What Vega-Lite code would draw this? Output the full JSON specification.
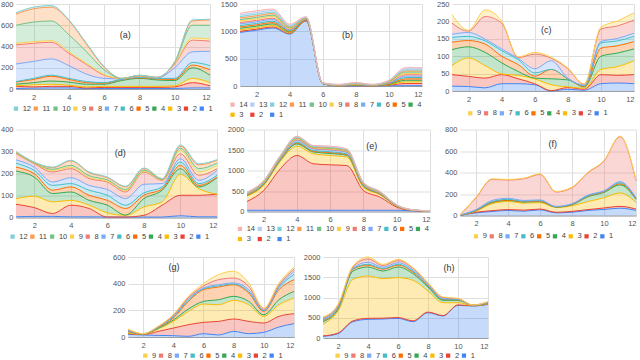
{
"$schema":"https://vega.github.io/schema/vega-lite/v6.json",
"padding":0,
"background":"white",
"config":{
"font":"Liberation Sans",
"view":{"stroke":null},
"axis":{"labelFontSize":7.5,"labelColor":"#555","ticks":false,"grid":true,"gridColor":"#dedede","gridWidth":1,"domain":false},
"axisX":{"domain":true,"domainColor":"#9e9e9e","labelPadding":4,"values":[2,4,6,8,10,12],"labelAngle":0},
"axisY":{"labelPadding":3,"format":"d"},
"legend":{"orient":"none","direction":"horizontal","symbolType":"square","symbolSize":18,"symbolStrokeWidth":0,"labelFontSize":7.5,"labelColor":"#444","columnPadding":0.8,"labelOffset":3,"rowPadding":1.5,"symbolOpacity":1},
"text":{"fontSize":9,"fill":"#333"}
},
"datasets":{
"a":[
{"x":1,"k":1,"v":5},{"x":1,"k":2,"v":20},{"x":1,"k":3,"v":5},{"x":1,"k":4,"v":15},{"x":1,"k":5,"v":20},{"x":1,"k":6,"v":5},{"x":1,"k":7,"v":165},{"x":1,"k":8,"v":180},{"x":1,"k":9,"v":15},{"x":1,"k":10,"v":170},{"x":1,"k":11,"v":105},{"x":1,"k":12,"v":14},
{"x":2,"k":1,"v":8},{"x":2,"k":2,"v":12},{"x":2,"k":3,"v":20},{"x":2,"k":4,"v":20},{"x":2,"k":5,"v":30},{"x":2,"k":6,"v":10},{"x":2,"k":7,"v":160},{"x":2,"k":8,"v":170},{"x":2,"k":9,"v":15},{"x":2,"k":10,"v":185},{"x":2,"k":11,"v":125},{"x":2,"k":12,"v":15},
{"x":3,"k":1,"v":10},{"x":3,"k":2,"v":15},{"x":3,"k":3,"v":20},{"x":3,"k":4,"v":30},{"x":3,"k":5,"v":45},{"x":3,"k":6,"v":10},{"x":3,"k":7,"v":153},{"x":3,"k":8,"v":157},{"x":3,"k":9,"v":15},{"x":3,"k":10,"v":185},{"x":3,"k":11,"v":130},{"x":3,"k":12,"v":15},
{"x":4,"k":1,"v":10},{"x":4,"k":2,"v":15},{"x":4,"k":3,"v":10},{"x":4,"k":4,"v":30},{"x":4,"k":5,"v":25},{"x":4,"k":6,"v":10},{"x":4,"k":7,"v":120},{"x":4,"k":8,"v":116},{"x":4,"k":9,"v":14},{"x":4,"k":10,"v":160},{"x":4,"k":11,"v":135},{"x":4,"k":12,"v":5},
{"x":5,"k":1,"v":5},{"x":5,"k":2,"v":5},{"x":5,"k":3,"v":10},{"x":5,"k":4,"v":25},{"x":5,"k":5,"v":15},{"x":5,"k":6,"v":10},{"x":5,"k":7,"v":70},{"x":5,"k":8,"v":90},{"x":5,"k":9,"v":10},{"x":5,"k":10,"v":110},{"x":5,"k":11,"v":70},{"x":5,"k":12,"v":10},
{"x":6,"k":1,"v":5},{"x":6,"k":2,"v":10},{"x":6,"k":3,"v":10},{"x":6,"k":4,"v":20},{"x":6,"k":5,"v":10},{"x":6,"k":6,"v":5},{"x":6,"k":7,"v":40},{"x":6,"k":8,"v":30},{"x":6,"k":9,"v":5},{"x":6,"k":10,"v":45},{"x":6,"k":11,"v":25},{"x":6,"k":12,"v":5},
{"x":7,"k":1,"v":5},{"x":7,"k":2,"v":10},{"x":7,"k":3,"v":10},{"x":7,"k":4,"v":55},{"x":7,"k":5,"v":10},{"x":7,"k":6,"v":2},{"x":7,"k":7,"v":3},{"x":7,"k":8,"v":3},{"x":7,"k":9,"v":1},{"x":7,"k":10,"v":1},{"x":7,"k":11,"v":0},{"x":7,"k":12,"v":0},
{"x":8,"k":1,"v":5},{"x":8,"k":2,"v":10},{"x":8,"k":3,"v":10},{"x":8,"k":4,"v":75},{"x":8,"k":5,"v":5},{"x":8,"k":6,"v":5},{"x":8,"k":7,"v":5},{"x":8,"k":8,"v":5},{"x":8,"k":9,"v":2},{"x":8,"k":10,"v":5},{"x":8,"k":11,"v":2},{"x":8,"k":12,"v":1},
{"x":9,"k":1,"v":5},{"x":9,"k":2,"v":10},{"x":9,"k":3,"v":10},{"x":9,"k":4,"v":60},{"x":9,"k":5,"v":10},{"x":9,"k":6,"v":5},{"x":9,"k":7,"v":3},{"x":9,"k":8,"v":3},{"x":9,"k":9,"v":1},{"x":9,"k":10,"v":2},{"x":9,"k":11,"v":1},{"x":9,"k":12,"v":0},
{"x":10,"k":1,"v":5},{"x":10,"k":2,"v":15},{"x":10,"k":3,"v":10},{"x":10,"k":4,"v":50},{"x":10,"k":5,"v":10},{"x":10,"k":6,"v":10},{"x":10,"k":7,"v":100},{"x":10,"k":8,"v":35},{"x":10,"k":9,"v":5},{"x":10,"k":10,"v":10},{"x":10,"k":11,"v":5},{"x":10,"k":12,"v":2},
{"x":11,"k":1,"v":10},{"x":11,"k":2,"v":50},{"x":11,"k":3,"v":40},{"x":11,"k":4,"v":100},{"x":11,"k":5,"v":25},{"x":11,"k":6,"v":25},{"x":11,"k":7,"v":100},{"x":11,"k":8,"v":110},{"x":11,"k":9,"v":20},{"x":11,"k":10,"v":120},{"x":11,"k":11,"v":40},{"x":11,"k":12,"v":10},
{"x":12,"k":1,"v":10},{"x":12,"k":2,"v":20},{"x":12,"k":3,"v":30},{"x":12,"k":4,"v":70},{"x":12,"k":5,"v":50},{"x":12,"k":6,"v":40},{"x":12,"k":7,"v":135},{"x":12,"k":8,"v":95},{"x":12,"k":9,"v":20},{"x":12,"k":10,"v":130},{"x":12,"k":11,"v":50},{"x":12,"k":12,"v":6}
],
"b":[
{"x":1,"k":1,"v":980},{"x":1,"k":2,"v":20},{"x":1,"k":3,"v":25},{"x":1,"k":4,"v":30},{"x":1,"k":5,"v":25},{"x":1,"k":6,"v":25},{"x":1,"k":7,"v":30},{"x":1,"k":8,"v":25},{"x":1,"k":9,"v":30},{"x":1,"k":10,"v":25},{"x":1,"k":11,"v":30},{"x":1,"k":12,"v":25},{"x":1,"k":13,"v":30},{"x":1,"k":14,"v":30},
{"x":2,"k":1,"v":1020},{"x":2,"k":2,"v":20},{"x":2,"k":3,"v":25},{"x":2,"k":4,"v":30},{"x":2,"k":5,"v":25},{"x":2,"k":6,"v":25},{"x":2,"k":7,"v":30},{"x":2,"k":8,"v":25},{"x":2,"k":9,"v":30},{"x":2,"k":10,"v":25},{"x":2,"k":11,"v":30},{"x":2,"k":12,"v":30},{"x":2,"k":13,"v":30},{"x":2,"k":14,"v":32},
{"x":3,"k":1,"v":1060},{"x":3,"k":2,"v":20},{"x":3,"k":3,"v":25},{"x":3,"k":4,"v":30},{"x":3,"k":5,"v":25},{"x":3,"k":6,"v":25},{"x":3,"k":7,"v":30},{"x":3,"k":8,"v":25},{"x":3,"k":9,"v":30},{"x":3,"k":10,"v":25},{"x":3,"k":11,"v":30},{"x":3,"k":12,"v":25},{"x":3,"k":13,"v":30},{"x":3,"k":14,"v":28},
{"x":4,"k":1,"v":950},{"x":4,"k":2,"v":10},{"x":4,"k":3,"v":12},{"x":4,"k":4,"v":15},{"x":4,"k":5,"v":12},{"x":4,"k":6,"v":12},{"x":4,"k":7,"v":15},{"x":4,"k":8,"v":12},{"x":4,"k":9,"v":15},{"x":4,"k":10,"v":12},{"x":4,"k":11,"v":15},{"x":4,"k":12,"v":15},{"x":4,"k":13,"v":18},{"x":4,"k":14,"v":17},
{"x":5,"k":1,"v":1190},{"x":5,"k":2,"v":5},{"x":5,"k":3,"v":6},{"x":5,"k":4,"v":6},{"x":5,"k":5,"v":6},{"x":5,"k":6,"v":6},{"x":5,"k":7,"v":6},{"x":5,"k":8,"v":6},{"x":5,"k":9,"v":6},{"x":5,"k":10,"v":6},{"x":5,"k":11,"v":6},{"x":5,"k":12,"v":6},{"x":5,"k":13,"v":6},{"x":5,"k":14,"v":6},
{"x":6,"k":1,"v":40},{"x":6,"k":2,"v":2},{"x":6,"k":3,"v":1},{"x":6,"k":4,"v":2},{"x":6,"k":5,"v":1},{"x":6,"k":6,"v":2},{"x":6,"k":7,"v":1},{"x":6,"k":8,"v":2},{"x":6,"k":9,"v":1},{"x":6,"k":10,"v":2},{"x":6,"k":11,"v":1},{"x":6,"k":12,"v":2},{"x":6,"k":13,"v":1},{"x":6,"k":14,"v":2},
{"x":7,"k":1,"v":0},{"x":7,"k":2,"v":2},{"x":7,"k":3,"v":2},{"x":7,"k":4,"v":2},{"x":7,"k":5,"v":2},{"x":7,"k":6,"v":2},{"x":7,"k":7,"v":2},{"x":7,"k":8,"v":3},{"x":7,"k":9,"v":2},{"x":7,"k":10,"v":2},{"x":7,"k":11,"v":3},{"x":7,"k":12,"v":2},{"x":7,"k":13,"v":3},{"x":7,"k":14,"v":3},
{"x":8,"k":1,"v":0},{"x":8,"k":2,"v":5},{"x":8,"k":3,"v":5},{"x":8,"k":4,"v":5},{"x":8,"k":5,"v":5},{"x":8,"k":6,"v":5},{"x":8,"k":7,"v":5},{"x":8,"k":8,"v":5},{"x":8,"k":9,"v":5},{"x":8,"k":10,"v":5},{"x":8,"k":11,"v":5},{"x":8,"k":12,"v":5},{"x":8,"k":13,"v":5},{"x":8,"k":14,"v":5},
{"x":9,"k":1,"v":0},{"x":9,"k":2,"v":2},{"x":9,"k":3,"v":2},{"x":9,"k":4,"v":2},{"x":9,"k":5,"v":2},{"x":9,"k":6,"v":2},{"x":9,"k":7,"v":3},{"x":9,"k":8,"v":2},{"x":9,"k":9,"v":3},{"x":9,"k":10,"v":2},{"x":9,"k":11,"v":3},{"x":9,"k":12,"v":2},{"x":9,"k":13,"v":3},{"x":9,"k":14,"v":2},
{"x":10,"k":1,"v":5},{"x":10,"k":2,"v":10},{"x":10,"k":3,"v":8},{"x":10,"k":4,"v":8},{"x":10,"k":5,"v":8},{"x":10,"k":6,"v":8},{"x":10,"k":7,"v":8},{"x":10,"k":8,"v":8},{"x":10,"k":9,"v":8},{"x":10,"k":10,"v":8},{"x":10,"k":11,"v":7},{"x":10,"k":12,"v":7},{"x":10,"k":13,"v":6},{"x":10,"k":14,"v":6},
{"x":11,"k":1,"v":5},{"x":11,"k":2,"v":40},{"x":11,"k":3,"v":30},{"x":11,"k":4,"v":30},{"x":11,"k":5,"v":25},{"x":11,"k":6,"v":25},{"x":11,"k":7,"v":25},{"x":11,"k":8,"v":25},{"x":11,"k":9,"v":25},{"x":11,"k":10,"v":25},{"x":11,"k":11,"v":20},{"x":11,"k":12,"v":20},{"x":11,"k":13,"v":20},{"x":11,"k":14,"v":20},
{"x":12,"k":1,"v":5},{"x":12,"k":2,"v":40},{"x":12,"k":3,"v":30},{"x":12,"k":4,"v":30},{"x":12,"k":5,"v":25},{"x":12,"k":6,"v":25},{"x":12,"k":7,"v":25},{"x":12,"k":8,"v":25},{"x":12,"k":9,"v":25},{"x":12,"k":10,"v":25},{"x":12,"k":11,"v":20},{"x":12,"k":12,"v":20},{"x":12,"k":13,"v":20},{"x":12,"k":14,"v":20}
],
"c":[
{"x":1,"k":1,"v":14},{"x":1,"k":2,"v":33},{"x":1,"k":3,"v":26},{"x":1,"k":4,"v":46},{"x":1,"k":5,"v":21},{"x":1,"k":6,"v":14},{"x":1,"k":7,"v":9},{"x":1,"k":8,"v":32},{"x":1,"k":9,"v":25},
{"x":2,"k":1,"v":13},{"x":2,"k":2,"v":29},{"x":2,"k":3,"v":53},{"x":2,"k":4,"v":32},{"x":2,"k":5,"v":18},{"x":2,"k":6,"v":12},{"x":2,"k":7,"v":11},{"x":2,"k":8,"v":4},{"x":2,"k":9,"v":3},
{"x":3,"k":1,"v":9},{"x":3,"k":2,"v":28},{"x":3,"k":3,"v":36},{"x":3,"k":4,"v":38},{"x":3,"k":5,"v":24},{"x":3,"k":6,"v":9},{"x":3,"k":7,"v":5},{"x":3,"k":8,"v":65},{"x":3,"k":9,"v":19},
{"x":4,"k":1,"v":21},{"x":4,"k":2,"v":26},{"x":4,"k":3,"v":2},{"x":4,"k":4,"v":32},{"x":4,"k":5,"v":19},{"x":4,"k":6,"v":16},{"x":4,"k":7,"v":5},{"x":4,"k":8,"v":74},{"x":4,"k":9,"v":6},
{"x":5,"k":1,"v":21},{"x":5,"k":2,"v":14},{"x":5,"k":3,"v":10},{"x":5,"k":4,"v":11},{"x":5,"k":5,"v":20},{"x":5,"k":6,"v":14},{"x":5,"k":7,"v":4},{"x":5,"k":8,"v":2},{"x":5,"k":9,"v":2},
{"x":6,"k":1,"v":18},{"x":6,"k":2,"v":3},{"x":6,"k":3,"v":14},{"x":6,"k":4,"v":2},{"x":6,"k":5,"v":6},{"x":6,"k":6,"v":9},{"x":6,"k":7,"v":12},{"x":6,"k":8,"v":42},{"x":6,"k":9,"v":5},
{"x":7,"k":1,"v":0},{"x":7,"k":2,"v":1},{"x":7,"k":3,"v":17},{"x":7,"k":4,"v":17},{"x":7,"k":5,"v":27},{"x":7,"k":6,"v":0},{"x":7,"k":7,"v":25},{"x":7,"k":8,"v":7},{"x":7,"k":9,"v":3},
{"x":8,"k":1,"v":5},{"x":8,"k":2,"v":5},{"x":8,"k":3,"v":2},{"x":8,"k":4,"v":20},{"x":8,"k":5,"v":3},{"x":8,"k":6,"v":0},{"x":8,"k":7,"v":2},{"x":8,"k":8,"v":27},{"x":8,"k":9,"v":2},
{"x":9,"k":1,"v":2},{"x":9,"k":2,"v":3},{"x":9,"k":3,"v":3},{"x":9,"k":4,"v":4},{"x":9,"k":5,"v":1},{"x":9,"k":6,"v":2},{"x":9,"k":7,"v":2},{"x":9,"k":8,"v":2},{"x":9,"k":9,"v":1},
{"x":10,"k":1,"v":21},{"x":10,"k":2,"v":26},{"x":10,"k":3,"v":15},{"x":10,"k":4,"v":38},{"x":10,"k":5,"v":23},{"x":10,"k":6,"v":15},{"x":10,"k":7,"v":4},{"x":10,"k":8,"v":36},{"x":10,"k":9,"v":6},
{"x":11,"k":1,"v":23},{"x":11,"k":2,"v":22},{"x":11,"k":3,"v":25},{"x":11,"k":4,"v":39},{"x":11,"k":5,"v":21},{"x":11,"k":6,"v":14},{"x":11,"k":7,"v":7},{"x":11,"k":8,"v":36},{"x":11,"k":9,"v":14},
{"x":12,"k":1,"v":21},{"x":12,"k":2,"v":26},{"x":12,"k":3,"v":40},{"x":12,"k":4,"v":34},{"x":12,"k":5,"v":21},{"x":12,"k":6,"v":15},{"x":12,"k":7,"v":9},{"x":12,"k":8,"v":38},{"x":12,"k":9,"v":21}
],
"d":[
{"x":1,"k":1,"v":3},{"x":1,"k":2,"v":57},{"x":1,"k":3,"v":25},{"x":1,"k":4,"v":126},{"x":1,"k":5,"v":18},{"x":1,"k":6,"v":18},{"x":1,"k":7,"v":15},{"x":1,"k":8,"v":28},{"x":1,"k":9,"v":2},{"x":1,"k":10,"v":3},{"x":1,"k":11,"v":3},{"x":1,"k":12,"v":2},
{"x":2,"k":1,"v":5},{"x":2,"k":2,"v":40},{"x":2,"k":3,"v":52},{"x":2,"k":4,"v":87},{"x":2,"k":5,"v":15},{"x":2,"k":6,"v":15},{"x":2,"k":7,"v":15},{"x":2,"k":8,"v":15},{"x":2,"k":9,"v":2},{"x":2,"k":10,"v":2},{"x":2,"k":11,"v":2},{"x":2,"k":12,"v":2},
{"x":3,"k":1,"v":5},{"x":3,"k":2,"v":13},{"x":3,"k":3,"v":53},{"x":3,"k":4,"v":38},{"x":3,"k":5,"v":15},{"x":3,"k":6,"v":22},{"x":3,"k":7,"v":15},{"x":3,"k":8,"v":46},{"x":3,"k":9,"v":7},{"x":3,"k":10,"v":5},{"x":3,"k":11,"v":7},{"x":3,"k":12,"v":3},
{"x":4,"k":1,"v":3},{"x":4,"k":2,"v":53},{"x":4,"k":3,"v":22},{"x":4,"k":4,"v":38},{"x":4,"k":5,"v":23},{"x":4,"k":6,"v":15},{"x":4,"k":7,"v":27},{"x":4,"k":8,"v":41},{"x":4,"k":9,"v":7},{"x":4,"k":10,"v":8},{"x":4,"k":11,"v":20},{"x":4,"k":12,"v":3},
{"x":5,"k":1,"v":3},{"x":5,"k":2,"v":38},{"x":5,"k":3,"v":15},{"x":5,"k":4,"v":22},{"x":5,"k":5,"v":23},{"x":5,"k":6,"v":23},{"x":5,"k":7,"v":22},{"x":5,"k":8,"v":31},{"x":5,"k":9,"v":5},{"x":5,"k":10,"v":8},{"x":5,"k":11,"v":14},{"x":5,"k":12,"v":3},
{"x":6,"k":1,"v":2},{"x":6,"k":2,"v":0},{"x":6,"k":3,"v":19},{"x":6,"k":4,"v":35},{"x":6,"k":5,"v":22},{"x":6,"k":6,"v":23},{"x":6,"k":7,"v":26},{"x":6,"k":8,"v":34},{"x":6,"k":9,"v":4},{"x":6,"k":10,"v":6},{"x":6,"k":11,"v":10},{"x":6,"k":12,"v":3},
{"x":7,"k":1,"v":2},{"x":7,"k":2,"v":0},{"x":7,"k":3,"v":8},{"x":7,"k":4,"v":1},{"x":7,"k":5,"v":30},{"x":7,"k":6,"v":15},{"x":7,"k":7,"v":30},{"x":7,"k":8,"v":30},{"x":7,"k":9,"v":5},{"x":7,"k":10,"v":6},{"x":7,"k":11,"v":12},{"x":7,"k":12,"v":3},
{"x":8,"k":1,"v":2},{"x":8,"k":2,"v":8},{"x":8,"k":3,"v":38},{"x":8,"k":4,"v":38},{"x":8,"k":5,"v":15},{"x":8,"k":6,"v":11},{"x":8,"k":7,"v":39},{"x":8,"k":8,"v":56},{"x":8,"k":9,"v":3},{"x":8,"k":10,"v":5},{"x":8,"k":11,"v":8},{"x":8,"k":12,"v":2},
{"x":9,"k":1,"v":2},{"x":9,"k":2,"v":54},{"x":9,"k":3,"v":15},{"x":9,"k":4,"v":53},{"x":9,"k":5,"v":7},{"x":9,"k":6,"v":8},{"x":9,"k":7,"v":15},{"x":9,"k":8,"v":15},{"x":9,"k":9,"v":2},{"x":9,"k":10,"v":2},{"x":9,"k":11,"v":2},{"x":9,"k":12,"v":2},
{"x":10,"k":1,"v":8},{"x":10,"k":2,"v":93},{"x":10,"k":3,"v":95},{"x":10,"k":4,"v":26},{"x":10,"k":5,"v":15},{"x":10,"k":6,"v":15},{"x":10,"k":7,"v":15},{"x":10,"k":8,"v":23},{"x":10,"k":9,"v":15},{"x":10,"k":10,"v":10},{"x":10,"k":11,"v":10},{"x":10,"k":12,"v":5},
{"x":11,"k":1,"v":3},{"x":11,"k":2,"v":98},{"x":11,"k":3,"v":30},{"x":11,"k":4,"v":8},{"x":11,"k":5,"v":7},{"x":11,"k":6,"v":8},{"x":11,"k":7,"v":15},{"x":11,"k":8,"v":23},{"x":11,"k":9,"v":15},{"x":11,"k":10,"v":15},{"x":11,"k":11,"v":17},{"x":11,"k":12,"v":5},
{"x":12,"k":1,"v":3},{"x":12,"k":2,"v":103},{"x":12,"k":3,"v":0},{"x":12,"k":4,"v":75},{"x":12,"k":5,"v":3},{"x":12,"k":6,"v":8},{"x":12,"k":7,"v":22},{"x":12,"k":8,"v":8},{"x":12,"k":9,"v":15},{"x":12,"k":10,"v":10},{"x":12,"k":11,"v":13},{"x":12,"k":12,"v":3}
],
"e":[
{"x":1,"k":1,"v":30},{"x":1,"k":2,"v":214},{"x":1,"k":3,"v":130},{"x":1,"k":4,"v":20},{"x":1,"k":5,"v":8},{"x":1,"k":6,"v":8},{"x":1,"k":7,"v":12},{"x":1,"k":8,"v":8},{"x":1,"k":9,"v":8},{"x":1,"k":10,"v":8},{"x":1,"k":11,"v":8},{"x":1,"k":12,"v":6},{"x":1,"k":13,"v":6},{"x":1,"k":14,"v":6},
{"x":2,"k":1,"v":30},{"x":2,"k":2,"v":482},{"x":2,"k":3,"v":122},{"x":2,"k":4,"v":25},{"x":2,"k":5,"v":10},{"x":2,"k":6,"v":10},{"x":2,"k":7,"v":15},{"x":2,"k":8,"v":10},{"x":2,"k":9,"v":10},{"x":2,"k":10,"v":10},{"x":2,"k":11,"v":10},{"x":2,"k":12,"v":8},{"x":2,"k":13,"v":7},{"x":2,"k":14,"v":7},
{"x":3,"k":1,"v":30},{"x":3,"k":2,"v":1010},{"x":3,"k":3,"v":180},{"x":3,"k":4,"v":30},{"x":3,"k":5,"v":12},{"x":3,"k":6,"v":12},{"x":3,"k":7,"v":18},{"x":3,"k":8,"v":12},{"x":3,"k":9,"v":12},{"x":3,"k":10,"v":12},{"x":3,"k":11,"v":12},{"x":3,"k":12,"v":12},{"x":3,"k":13,"v":7},{"x":3,"k":14,"v":7},
{"x":4,"k":1,"v":30},{"x":4,"k":2,"v":1336},{"x":4,"k":3,"v":227},{"x":4,"k":4,"v":57},{"x":4,"k":5,"v":20},{"x":4,"k":6,"v":20},{"x":4,"k":7,"v":40},{"x":4,"k":8,"v":20},{"x":4,"k":9,"v":20},{"x":4,"k":10,"v":15},{"x":4,"k":11,"v":15},{"x":4,"k":12,"v":15},{"x":4,"k":13,"v":12},{"x":4,"k":14,"v":10},
{"x":5,"k":1,"v":30},{"x":5,"k":2,"v":1133},{"x":5,"k":3,"v":243},{"x":5,"k":4,"v":45},{"x":5,"k":5,"v":15},{"x":5,"k":6,"v":20},{"x":5,"k":7,"v":35},{"x":5,"k":8,"v":15},{"x":5,"k":9,"v":15},{"x":5,"k":10,"v":12},{"x":5,"k":11,"v":12},{"x":5,"k":12,"v":15},{"x":5,"k":13,"v":10},{"x":5,"k":14,"v":10},
{"x":6,"k":1,"v":30},{"x":6,"k":2,"v":1108},{"x":6,"k":3,"v":228},{"x":6,"k":4,"v":50},{"x":6,"k":5,"v":20},{"x":6,"k":6,"v":20},{"x":6,"k":7,"v":40},{"x":6,"k":8,"v":15},{"x":6,"k":9,"v":15},{"x":6,"k":10,"v":15},{"x":6,"k":11,"v":15},{"x":6,"k":12,"v":15},{"x":6,"k":13,"v":12},{"x":6,"k":14,"v":10},
{"x":7,"k":1,"v":30},{"x":7,"k":2,"v":1092},{"x":7,"k":3,"v":203},{"x":7,"k":4,"v":45},{"x":7,"k":5,"v":15},{"x":7,"k":6,"v":20},{"x":7,"k":7,"v":35},{"x":7,"k":8,"v":15},{"x":7,"k":9,"v":15},{"x":7,"k":10,"v":12},{"x":7,"k":11,"v":12},{"x":7,"k":12,"v":15},{"x":7,"k":13,"v":10},{"x":7,"k":14,"v":9},
{"x":8,"k":1,"v":30},{"x":8,"k":2,"v":482},{"x":8,"k":3,"v":81},{"x":8,"k":4,"v":25},{"x":8,"k":5,"v":10},{"x":8,"k":6,"v":10},{"x":8,"k":7,"v":15},{"x":8,"k":8,"v":10},{"x":8,"k":9,"v":10},{"x":8,"k":10,"v":10},{"x":8,"k":11,"v":10},{"x":8,"k":12,"v":8},{"x":8,"k":13,"v":7},{"x":8,"k":14,"v":7},
{"x":9,"k":1,"v":30},{"x":9,"k":2,"v":320},{"x":9,"k":3,"v":57},{"x":9,"k":4,"v":15},{"x":9,"k":5,"v":7},{"x":9,"k":6,"v":7},{"x":9,"k":7,"v":10},{"x":9,"k":8,"v":7},{"x":9,"k":9,"v":7},{"x":9,"k":10,"v":7},{"x":9,"k":11,"v":7},{"x":9,"k":12,"v":5},{"x":9,"k":13,"v":5},{"x":9,"k":14,"v":4},
{"x":10,"k":1,"v":30},{"x":10,"k":2,"v":76},{"x":10,"k":3,"v":24},{"x":10,"k":4,"v":5},{"x":10,"k":5,"v":3},{"x":10,"k":6,"v":3},{"x":10,"k":7,"v":4},{"x":10,"k":8,"v":3},{"x":10,"k":9,"v":3},{"x":10,"k":10,"v":3},{"x":10,"k":11,"v":3},{"x":10,"k":12,"v":2},{"x":10,"k":13,"v":2},{"x":10,"k":14,"v":2},
{"x":11,"k":1,"v":15},{"x":11,"k":2,"v":5},{"x":11,"k":3,"v":10},{"x":11,"k":4,"v":1},{"x":11,"k":5,"v":1},{"x":11,"k":6,"v":1},{"x":11,"k":7,"v":1},{"x":11,"k":8,"v":1},{"x":11,"k":9,"v":1},{"x":11,"k":10,"v":1},{"x":11,"k":11,"v":1},{"x":11,"k":12,"v":1},{"x":11,"k":13,"v":1},{"x":11,"k":14,"v":1},
{"x":12,"k":1,"v":6},{"x":12,"k":2,"v":2},{"x":12,"k":3,"v":3},{"x":12,"k":4,"v":1},{"x":12,"k":5,"v":0},{"x":12,"k":6,"v":1},{"x":12,"k":7,"v":0},{"x":12,"k":8,"v":1},{"x":12,"k":9,"v":0},{"x":12,"k":10,"v":1},{"x":12,"k":11,"v":0},{"x":12,"k":12,"v":0},{"x":12,"k":13,"v":1},{"x":12,"k":14,"v":0}
],
"f":[
{"x":1,"k":1,"v":0},{"x":1,"k":2,"v":0},{"x":1,"k":3,"v":3},{"x":1,"k":4,"v":0},{"x":1,"k":5,"v":0},{"x":1,"k":6,"v":0},{"x":1,"k":7,"v":1},{"x":1,"k":8,"v":1},{"x":1,"k":9,"v":1},
{"x":2,"k":1,"v":25},{"x":2,"k":2,"v":5},{"x":2,"k":3,"v":10},{"x":2,"k":4,"v":5},{"x":2,"k":5,"v":2},{"x":2,"k":6,"v":3},{"x":2,"k":7,"v":5},{"x":2,"k":8,"v":110},{"x":2,"k":9,"v":5},
{"x":3,"k":1,"v":37},{"x":3,"k":2,"v":8},{"x":3,"k":3,"v":65},{"x":3,"k":4,"v":10},{"x":3,"k":5,"v":3},{"x":3,"k":6,"v":7},{"x":3,"k":7,"v":10},{"x":3,"k":8,"v":196},{"x":3,"k":9,"v":5},
{"x":4,"k":1,"v":47},{"x":4,"k":2,"v":8},{"x":4,"k":3,"v":75},{"x":4,"k":4,"v":10},{"x":4,"k":5,"v":3},{"x":4,"k":6,"v":7},{"x":4,"k":7,"v":10},{"x":4,"k":8,"v":170},{"x":4,"k":9,"v":5},
{"x":5,"k":1,"v":40},{"x":5,"k":2,"v":10},{"x":5,"k":3,"v":65},{"x":5,"k":4,"v":10},{"x":5,"k":5,"v":3},{"x":5,"k":6,"v":5},{"x":5,"k":7,"v":7},{"x":5,"k":8,"v":202},{"x":5,"k":9,"v":5},
{"x":6,"k":1,"v":53},{"x":6,"k":2,"v":7},{"x":6,"k":3,"v":60},{"x":6,"k":4,"v":10},{"x":6,"k":5,"v":3},{"x":6,"k":6,"v":5},{"x":6,"k":7,"v":7},{"x":6,"k":8,"v":238},{"x":6,"k":9,"v":5},
{"x":7,"k":1,"v":25},{"x":7,"k":2,"v":5},{"x":7,"k":3,"v":45},{"x":7,"k":4,"v":3},{"x":7,"k":5,"v":2},{"x":7,"k":6,"v":2},{"x":7,"k":7,"v":3},{"x":7,"k":8,"v":133},{"x":7,"k":9,"v":5},
{"x":8,"k":1,"v":31},{"x":8,"k":2,"v":7},{"x":8,"k":3,"v":52},{"x":8,"k":4,"v":10},{"x":8,"k":5,"v":3},{"x":8,"k":6,"v":3},{"x":8,"k":7,"v":4},{"x":8,"k":8,"v":149},{"x":8,"k":9,"v":5},
{"x":9,"k":1,"v":47},{"x":9,"k":2,"v":8},{"x":9,"k":3,"v":75},{"x":9,"k":4,"v":45},{"x":9,"k":5,"v":5},{"x":9,"k":6,"v":5},{"x":9,"k":7,"v":5},{"x":9,"k":8,"v":208},{"x":9,"k":9,"v":5},
{"x":10,"k":1,"v":56},{"x":10,"k":2,"v":14},{"x":10,"k":3,"v":95},{"x":10,"k":4,"v":50},{"x":10,"k":5,"v":5},{"x":10,"k":6,"v":5},{"x":10,"k":7,"v":5},{"x":10,"k":8,"v":277},{"x":10,"k":9,"v":5},
{"x":11,"k":1,"v":68},{"x":11,"k":2,"v":17},{"x":11,"k":3,"v":125},{"x":11,"k":4,"v":75},{"x":11,"k":5,"v":10},{"x":11,"k":6,"v":10},{"x":11,"k":7,"v":10},{"x":11,"k":8,"v":418},{"x":11,"k":9,"v":5},
{"x":12,"k":1,"v":47},{"x":12,"k":2,"v":13},{"x":12,"k":3,"v":60},{"x":12,"k":4,"v":30},{"x":12,"k":5,"v":5},{"x":12,"k":6,"v":5},{"x":12,"k":7,"v":5},{"x":12,"k":8,"v":156},{"x":12,"k":9,"v":5}
],
"g":[
{"x":1,"k":1,"v":20},{"x":1,"k":2,"v":5},{"x":1,"k":3,"v":5},{"x":1,"k":4,"v":10},{"x":1,"k":5,"v":2},{"x":1,"k":6,"v":3},{"x":1,"k":7,"v":5},{"x":1,"k":8,"v":5},{"x":1,"k":9,"v":5},
{"x":2,"k":1,"v":15},{"x":2,"k":2,"v":3},{"x":2,"k":3,"v":2},{"x":2,"k":4,"v":2},{"x":2,"k":5,"v":1},{"x":2,"k":6,"v":1},{"x":2,"k":7,"v":0},{"x":2,"k":8,"v":0},{"x":2,"k":9,"v":1},
{"x":3,"k":1,"v":12},{"x":3,"k":2,"v":30},{"x":3,"k":3,"v":18},{"x":3,"k":4,"v":5},{"x":3,"k":5,"v":5},{"x":3,"k":6,"v":3},{"x":3,"k":7,"v":3},{"x":3,"k":8,"v":2},{"x":3,"k":9,"v":2},
{"x":4,"k":1,"v":10},{"x":4,"k":2,"v":57},{"x":4,"k":3,"v":50},{"x":4,"k":4,"v":10},{"x":4,"k":5,"v":15},{"x":4,"k":6,"v":8},{"x":4,"k":7,"v":6},{"x":4,"k":8,"v":6},{"x":4,"k":9,"v":6},
{"x":5,"k":1,"v":5},{"x":5,"k":2,"v":87},{"x":5,"k":3,"v":100},{"x":5,"k":4,"v":18},{"x":5,"k":5,"v":57},{"x":5,"k":6,"v":10},{"x":5,"k":7,"v":8},{"x":5,"k":8,"v":10},{"x":5,"k":9,"v":10},
{"x":6,"k":1,"v":25},{"x":6,"k":2,"v":85},{"x":6,"k":3,"v":137},{"x":6,"k":4,"v":20},{"x":6,"k":5,"v":88},{"x":6,"k":6,"v":7},{"x":6,"k":7,"v":5},{"x":6,"k":8,"v":15},{"x":6,"k":9,"v":18},
{"x":7,"k":1,"v":15},{"x":7,"k":2,"v":102},{"x":7,"k":3,"v":125},{"x":7,"k":4,"v":38},{"x":7,"k":5,"v":95},{"x":7,"k":6,"v":8},{"x":7,"k":7,"v":9},{"x":7,"k":8,"v":38},{"x":7,"k":9,"v":38},
{"x":8,"k":1,"v":42},{"x":8,"k":2,"v":93},{"x":8,"k":3,"v":140},{"x":8,"k":4,"v":30},{"x":8,"k":5,"v":87},{"x":8,"k":6,"v":6},{"x":8,"k":7,"v":7},{"x":8,"k":8,"v":37},{"x":8,"k":9,"v":51},
{"x":9,"k":1,"v":25},{"x":9,"k":2,"v":92},{"x":9,"k":3,"v":125},{"x":9,"k":4,"v":25},{"x":9,"k":5,"v":63},{"x":9,"k":6,"v":10},{"x":9,"k":7,"v":15},{"x":9,"k":8,"v":25},{"x":9,"k":9,"v":25},
{"x":10,"k":1,"v":35},{"x":10,"k":2,"v":70},{"x":10,"k":3,"v":50},{"x":10,"k":4,"v":12},{"x":10,"k":5,"v":25},{"x":10,"k":6,"v":5},{"x":10,"k":7,"v":3},{"x":10,"k":8,"v":8},{"x":10,"k":9,"v":10},
{"x":11,"k":1,"v":75},{"x":11,"k":2,"v":80},{"x":11,"k":3,"v":87},{"x":11,"k":4,"v":38},{"x":11,"k":5,"v":75},{"x":11,"k":6,"v":15},{"x":11,"k":7,"v":10},{"x":11,"k":8,"v":10},{"x":11,"k":9,"v":15},
{"x":12,"k":1,"v":100},{"x":12,"k":2,"v":75},{"x":12,"k":3,"v":117},{"x":12,"k":4,"v":50},{"x":12,"k":5,"v":88},{"x":12,"k":6,"v":40},{"x":12,"k":7,"v":22},{"x":12,"k":8,"v":18},{"x":12,"k":9,"v":15}
],
"h":[
{"x":1,"k":1,"v":41},{"x":1,"k":2,"v":10},{"x":1,"k":3,"v":286},{"x":1,"k":4,"v":66},{"x":1,"k":5,"v":30},{"x":1,"k":6,"v":20},{"x":1,"k":7,"v":25},{"x":1,"k":8,"v":20},{"x":1,"k":9,"v":20},
{"x":2,"k":1,"v":107},{"x":2,"k":2,"v":15},{"x":2,"k":3,"v":545},{"x":2,"k":4,"v":41},{"x":2,"k":5,"v":20},{"x":2,"k":6,"v":15},{"x":2,"k":7,"v":30},{"x":2,"k":8,"v":30},{"x":2,"k":9,"v":28},
{"x":3,"k":1,"v":403},{"x":3,"k":2,"v":20},{"x":3,"k":3,"v":1025},{"x":3,"k":4,"v":206},{"x":3,"k":5,"v":46},{"x":3,"k":6,"v":10},{"x":3,"k":7,"v":20},{"x":3,"k":8,"v":30},{"x":3,"k":9,"v":18},
{"x":4,"k":1,"v":461},{"x":4,"k":2,"v":25},{"x":4,"k":3,"v":1045},{"x":4,"k":4,"v":222},{"x":4,"k":5,"v":47},{"x":4,"k":6,"v":20},{"x":4,"k":7,"v":50},{"x":4,"k":8,"v":80},{"x":4,"k":9,"v":50},
{"x":5,"k":1,"v":469},{"x":5,"k":2,"v":20},{"x":5,"k":3,"v":976},{"x":5,"k":4,"v":189},{"x":5,"k":5,"v":46},{"x":5,"k":6,"v":15},{"x":5,"k":7,"v":35},{"x":5,"k":8,"v":40},{"x":5,"k":9,"v":29},
{"x":6,"k":1,"v":486},{"x":6,"k":2,"v":20},{"x":6,"k":3,"v":984},{"x":6,"k":4,"v":263},{"x":6,"k":5,"v":47},{"x":6,"k":6,"v":20},{"x":6,"k":7,"v":40},{"x":6,"k":8,"v":50},{"x":6,"k":9,"v":32},
{"x":7,"k":1,"v":403},{"x":7,"k":2,"v":20},{"x":7,"k":3,"v":1001},{"x":7,"k":4,"v":164},{"x":7,"k":5,"v":40},{"x":7,"k":6,"v":20},{"x":7,"k":7,"v":35},{"x":7,"k":8,"v":35},{"x":7,"k":9,"v":19},
{"x":8,"k":1,"v":625},{"x":8,"k":2,"v":15},{"x":8,"k":3,"v":520},{"x":8,"k":4,"v":99},{"x":8,"k":5,"v":25},{"x":8,"k":6,"v":15},{"x":8,"k":7,"v":25},{"x":8,"k":8,"v":25},{"x":8,"k":9,"v":17},
{"x":9,"k":1,"v":543},{"x":9,"k":2,"v":10},{"x":9,"k":3,"v":319},{"x":9,"k":4,"v":58},{"x":9,"k":5,"v":20},{"x":9,"k":6,"v":10},{"x":9,"k":7,"v":20},{"x":9,"k":8,"v":20},{"x":9,"k":9,"v":12},
{"x":10,"k":1,"v":807},{"x":10,"k":2,"v":10},{"x":10,"k":3,"v":55},{"x":10,"k":4,"v":58},{"x":10,"k":5,"v":15},{"x":10,"k":6,"v":5},{"x":10,"k":7,"v":10},{"x":10,"k":8,"v":10},{"x":10,"k":9,"v":9},
{"x":11,"k":1,"v":790},{"x":11,"k":2,"v":5},{"x":11,"k":3,"v":0},{"x":11,"k":4,"v":10},{"x":11,"k":5,"v":3},{"x":11,"k":6,"v":2},{"x":11,"k":7,"v":2},{"x":11,"k":8,"v":2},{"x":11,"k":9,"v":1},
{"x":12,"k":1,"v":830},{"x":12,"k":2,"v":5},{"x":12,"k":3,"v":10},{"x":12,"k":4,"v":10},{"x":12,"k":5,"v":10},{"x":12,"k":6,"v":5},{"x":12,"k":7,"v":10},{"x":12,"k":8,"v":10},{"x":12,"k":9,"v":10}
]
},
"spacing":10,
"resolve":{"scale":{"color":"independent"}},
"vconcat":[
{"spacing":6.5,"resolve":{"scale":{"color":"independent"}},
"vconcat":[
{"spacing":30,"bounds":"flush","resolve":{"scale":{"color":"independent"}},
"hconcat":[
{"width":194,"height":85,"data":{"name":"a"},
"transform":[{"stack":"v","groupby":["x"],"sort":[{"field":"k","order":"ascending"}],"as":["v0","v1"]}],
"encoding":{"x":{"field":"x","type":"quantitative","scale":{"domain":[1,12],"nice":false,"zero":false},"title":null},
"y":{"field":"v1","type":"quantitative","scale":{"domain":[0,800],"nice":false},"axis":{"values":[0,200,400,600,800]},"title":null}},
"layer":[
{"mark":{"type":"area","interpolate":"monotone","fillOpacity":0.3},"encoding":{"y2":{"field":"v0"},"color":{"field":"k","type":"nominal","scale":{"domain":[12,11,10,9,8,7,6,5,4,3,2,1],"range":["#7ed1d7","#ff994d","#71c287","#fcd04f","#f07b72","#7baaf7","#46bdc6","#ff6d01","#34a853","#fbbc04","#ea4335","#4285f4"]},"legend":{"title":null,"legendX":-3.8,"legendY":100.5}}}},
{"mark":{"type":"line","interpolate":"monotone","strokeWidth":1},"encoding":{"color":{"field":"k","type":"nominal"}}},
{"transform":[{"filter":{"and":[{"field":"x","equal":1},{"field":"k","equal":1}]}}],"mark":{"type":"text","text":"(a)"},"encoding":{"x":{"datum":7.2},"y":{"datum":508}}}
]},
{"width":182,"height":82,"data":{"name":"b"},
"transform":[{"stack":"v","groupby":["x"],"sort":[{"field":"k","order":"ascending"}],"as":["v0","v1"]}],
"encoding":{"x":{"field":"x","type":"quantitative","scale":{"domain":[1,12],"nice":false,"zero":false},"title":null},
"y":{"field":"v1","type":"quantitative","scale":{"domain":[0,1500],"nice":false},"axis":{"values":[0,500,1000,1500]},"title":null}},
"layer":[
{"mark":{"type":"area","interpolate":"monotone","fillOpacity":0.3},"encoding":{"y2":{"field":"v0"},"color":{"field":"k","type":"nominal","scale":{"domain":[14,13,12,11,10,9,8,7,6,5,4,3,2,1],"range":["#f7b4ae","#b3cefb","#7ed1d7","#ff994d","#71c287","#fcd04f","#f07b72","#7baaf7","#46bdc6","#ff6d01","#34a853","#fbbc04","#ea4335","#4285f4"]},"legend":{"title":null,"columns":11,"legendX":-11.2,"legendY":96.5}}}},
{"mark":{"type":"line","interpolate":"monotone","strokeWidth":1},"encoding":{"color":{"field":"k","type":"nominal"}}},
{"transform":[{"filter":{"and":[{"field":"x","equal":1},{"field":"k","equal":1}]}}],"mark":{"type":"text","text":"(b)"},"encoding":{"x":{"datum":7.5},"y":{"datum":940}}}
]},
{"width":182,"height":87,"data":{"name":"c"},
"transform":[{"stack":"v","groupby":["x"],"sort":[{"field":"k","order":"ascending"}],"as":["v0","v1"]}],
"encoding":{"x":{"field":"x","type":"quantitative","scale":{"domain":[1,12],"nice":false,"zero":false},"title":null},
"y":{"field":"v1","type":"quantitative","scale":{"domain":[0,250],"nice":false},"axis":{"values":[0,50,100,150,200,250]},"title":null}},
"layer":[
{"mark":{"type":"area","interpolate":"monotone","fillOpacity":0.3},"encoding":{"y2":{"field":"v0"},"color":{"field":"k","type":"nominal","scale":{"domain":[9,8,7,6,5,4,3,2,1],"range":["#fcd04f","#f07b72","#7baaf7","#46bdc6","#ff6d01","#34a853","#fbbc04","#ea4335","#4285f4"]},"legend":{"title":null,"legendX":14.5,"legendY":105.2}}}},
{"mark":{"type":"line","interpolate":"monotone","strokeWidth":1},"encoding":{"color":{"field":"k","type":"nominal"}}},
{"transform":[{"filter":{"and":[{"field":"x","equal":1},{"field":"k","equal":1}]}}],"mark":{"type":"text","text":"(c)"},"encoding":{"x":{"datum":6.7},"y":{"datum":175}}}
]}
]},
{"spacing":30,"bounds":"flush","resolve":{"scale":{"color":"independent"}},
"hconcat":[
{"width":201,"height":88,"data":{"name":"d"},
"transform":[{"stack":"v","groupby":["x"],"sort":[{"field":"k","order":"ascending"}],"as":["v0","v1"]}],
"encoding":{"x":{"field":"x","type":"quantitative","scale":{"domain":[1,12],"nice":false,"zero":false},"title":null},
"y":{"field":"v1","type":"quantitative","scale":{"domain":[0,400],"nice":false},"axis":{"values":[0,100,200,300,400]},"title":null}},
"layer":[
{"mark":{"type":"area","interpolate":"monotone","fillOpacity":0.3},"encoding":{"y2":{"field":"v0"},"color":{"field":"k","type":"nominal","scale":{"domain":[12,11,10,9,8,7,6,5,4,3,2,1],"range":["#7ed1d7","#ff994d","#71c287","#fcd04f","#f07b72","#7baaf7","#46bdc6","#ff6d01","#34a853","#fbbc04","#ea4335","#4285f4"]},"legend":{"title":null,"legendX":-7.2,"legendY":103}}}},
{"mark":{"type":"line","interpolate":"monotone","strokeWidth":1},"encoding":{"color":{"field":"k","type":"nominal"}}},
{"transform":[{"filter":{"and":[{"field":"x","equal":1},{"field":"k","equal":1}]}}],"mark":{"type":"text","text":"(d)"},"encoding":{"x":{"datum":6.7},"y":{"datum":295}}}
]},
{"width":183,"height":82,"data":{"name":"e"},
"transform":[{"stack":"v","groupby":["x"],"sort":[{"field":"k","order":"ascending"}],"as":["v0","v1"]}],
"encoding":{"x":{"field":"x","type":"quantitative","scale":{"domain":[1,12],"nice":false,"zero":false},"title":null},
"y":{"field":"v1","type":"quantitative","scale":{"domain":[0,2000],"nice":false},"axis":{"values":[0,500,1000,1500,2000]},"title":null}},
"layer":[
{"mark":{"type":"area","interpolate":"monotone","fillOpacity":0.3},"encoding":{"y2":{"field":"v0"},"color":{"field":"k","type":"nominal","scale":{"domain":[14,13,12,11,10,9,8,7,6,5,4,3,2,1],"range":["#f7b4ae","#b3cefb","#7ed1d7","#ff994d","#71c287","#fcd04f","#f07b72","#7baaf7","#46bdc6","#ff6d01","#34a853","#fbbc04","#ea4335","#4285f4"]},"legend":{"title":null,"columns":11,"legendX":-10.8,"legendY":95.3}}}},
{"mark":{"type":"line","interpolate":"monotone","strokeWidth":1},"encoding":{"color":{"field":"k","type":"nominal"}}},
{"transform":[{"filter":{"and":[{"field":"x","equal":1},{"field":"k","equal":1}]}}],"mark":{"type":"text","text":"(e)"},"encoding":{"x":{"datum":8.5},"y":{"datum":1600}}}
]},
{"width":176,"height":86,"data":{"name":"f"},
"transform":[{"stack":"v","groupby":["x"],"sort":[{"field":"k","order":"ascending"}],"as":["v0","v1"]}],
"encoding":{"x":{"field":"x","type":"quantitative","scale":{"domain":[1,12],"nice":false,"zero":false},"title":null},
"y":{"field":"v1","type":"quantitative","scale":{"domain":[0,800],"nice":false},"axis":{"values":[0,200,400,600,800]},"title":null}},
"layer":[
{"mark":{"type":"area","interpolate":"monotone","fillOpacity":0.3},"encoding":{"y2":{"field":"v0"},"color":{"field":"k","type":"nominal","scale":{"domain":[9,8,7,6,5,4,3,2,1],"range":["#fcd04f","#f07b72","#7baaf7","#46bdc6","#ff6d01","#34a853","#fbbc04","#ea4335","#4285f4"]},"legend":{"title":null,"legendX":12.2,"legendY":102.7}}}},
{"mark":{"type":"line","interpolate":"monotone","strokeWidth":1},"encoding":{"color":{"field":"k","type":"nominal"}}},
{"transform":[{"filter":{"and":[{"field":"x","equal":1},{"field":"k","equal":1}]}}],"mark":{"type":"text","text":"(f)"},"encoding":{"x":{"datum":6.8},"y":{"datum":667}}}
]}
]}
]},
{"spacing":29,"bounds":"flush","resolve":{"scale":{"color":"independent"}},
"hconcat":[
{"width":82.5,"height":80,"data":{"values":[]},"mark":"text","encoding":{}},
{"width":166,"height":80,"data":{"name":"g"},
"transform":[{"stack":"v","groupby":["x"],"sort":[{"field":"k","order":"ascending"}],"as":["v0","v1"]}],
"encoding":{"x":{"field":"x","type":"quantitative","scale":{"domain":[1,12],"nice":false,"zero":false},"title":null},
"y":{"field":"v1","type":"quantitative","scale":{"domain":[0,600],"nice":false},"axis":{"values":[0,200,400,600]},"title":null}},
"layer":[
{"mark":{"type":"area","interpolate":"monotone","fillOpacity":0.3},"encoding":{"y2":{"field":"v0"},"color":{"field":"k","type":"nominal","scale":{"domain":[9,8,7,6,5,4,3,2,1],"range":["#fcd04f","#f07b72","#7baaf7","#46bdc6","#ff6d01","#34a853","#fbbc04","#ea4335","#4285f4"]},"legend":{"title":null,"legendX":13.5,"legendY":94.5}}}},
{"mark":{"type":"line","interpolate":"monotone","strokeWidth":1},"encoding":{"color":{"field":"k","type":"nominal"}}},
{"transform":[{"filter":{"and":[{"field":"x","equal":1},{"field":"k","equal":1}]}}],"mark":{"type":"text","text":"(g)"},"encoding":{"x":{"datum":4.05},"y":{"datum":525}}}
]},
{"width":165,"height":81,"data":{"name":"h"},
"transform":[{"stack":"v","groupby":["x"],"sort":[{"field":"k","order":"ascending"}],"as":["v0","v1"]}],
"encoding":{"x":{"field":"x","type":"quantitative","scale":{"domain":[1,12],"nice":false,"zero":false},"title":null},
"y":{"field":"v1","type":"quantitative","scale":{"domain":[0,2000],"nice":false},"axis":{"values":[0,500,1000,1500,2000]},"title":null}},
"layer":[
{"mark":{"type":"area","interpolate":"monotone","fillOpacity":0.3},"encoding":{"y2":{"field":"v0"},"color":{"field":"k","type":"nominal","scale":{"domain":[9,8,7,6,5,4,3,2,1],"range":["#fcd04f","#f07b72","#7baaf7","#46bdc6","#ff6d01","#34a853","#fbbc04","#ea4335","#4285f4"]},"legend":{"title":null,"legendX":10.8,"legendY":94.5}}}},
{"mark":{"type":"line","interpolate":"monotone","strokeWidth":1},"encoding":{"color":{"field":"k","type":"nominal"}}},
{"transform":[{"filter":{"and":[{"field":"x","equal":1},{"field":"k","equal":1}]}}],"mark":{"type":"text","text":"(h)"},"encoding":{"x":{"datum":9.4},"y":{"datum":1728}}}
]}
]}
]
}
